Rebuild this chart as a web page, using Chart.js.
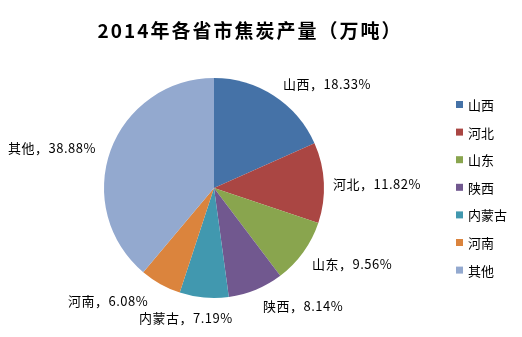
<!DOCTYPE html>
<html>
<head>
<meta charset="utf-8">
<script src="https://cdn.jsdelivr.net/npm/chart.js@4/dist/chart.umd.min.js"></script>
<style>
  html, body { margin: 0; padding: 0; background: #fff; }
  #wrap { width: 522px; height: 337px; position: relative; }
</style>
</head>
<body>
<div id="wrap"><canvas id="pie"></canvas></div>
<script>
const TITLE = '2014年各省市焦炭产量（万吨）';
const provinces = ['山西', '河北', '山东', '陕西', '内蒙古', '河南', '其他'];
const shares = [18.33, 11.82, 9.56, 8.14, 7.19, 6.08, 38.88];
const colors = ['#4572A7', '#AA4643', '#89A54E', '#71588F', '#4198AF', '#DB843D', '#93A9CF'];

// where each slice label sits (left edge x, middle y)
const labelAt = [[283, 84], [333, 184], [312, 264], [263, 306], [139, 318], [68, 301], [8, 148]];

const FONT = '"Noto Sans CJK SC", "Noto Sans", sans-serif';

const decor = {
  id: 'decor',
  afterDraw(chart) {
    const { ctx } = chart;
    ctx.save();

    // title
    ctx.fillStyle = '#000';
    ctx.font = 'bold 19px ' + FONT;
    ctx.letterSpacing = '2px';
    ctx.textAlign = 'center';
    ctx.textBaseline = 'middle';
    ctx.fillText(TITLE, 250, 31);

    // slice labels
    ctx.font = '13px ' + FONT;
    ctx.letterSpacing = '0.5px';
    ctx.textAlign = 'left';
    provinces.forEach((p, i) => {
      const [x, y] = labelAt[i];
      ctx.fillText(p + '，' + shares[i].toFixed(2) + '%', x, y);
    });
    ctx.letterSpacing = '0px';

    // legend
    ctx.font = '13px ' + FONT;
    provinces.forEach((p, i) => {
      const y = 105 + i * 27.6;
      ctx.fillStyle = colors[i];
      ctx.fillRect(456, y - 4, 7, 7);
      ctx.fillStyle = '#000';
      ctx.fillText(p, 468, y);
    });
    ctx.restore();
  }
};

new Chart(document.getElementById('pie'), {
  type: 'pie',
  data: {
    labels: provinces,
    datasets: [{
      data: shares,
      backgroundColor: colors,
      borderWidth: 0
    }]
  },
  options: {
    responsive: true,
    maintainAspectRatio: false,
    animation: false,
    layout: { padding: { left: 104, right: 198, top: 78, bottom: 39 } },
    plugins: {
      legend: { display: false },
      tooltip: { enabled: false }
    }
  },
  plugins: [decor]
});
</script>
</body>
</html>
